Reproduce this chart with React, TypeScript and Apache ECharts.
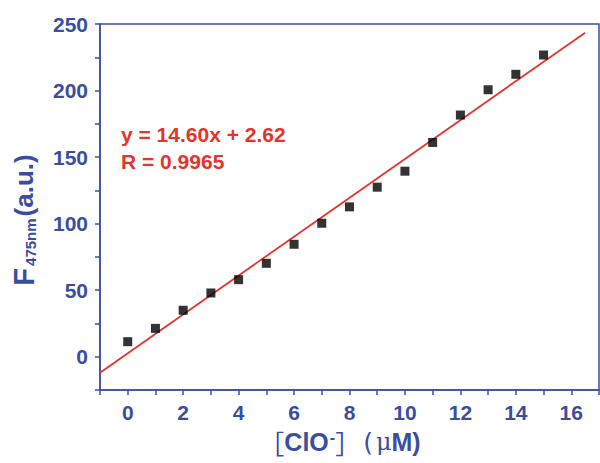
import React, { useEffect, useRef } from "react";
import * as echarts from "echarts";

const concentrations = [0, 1, 2, 3, 4, 5, 6, 7, 8, 9, 10, 11, 12, 13, 14, 15];
const intensities = [11.3, 21.3, 34.9, 47.9, 57.9, 70.2, 84.5, 100.3, 112.6, 127.4, 139.4, 161.0, 181.6, 200.6, 212.2, 226.7];
const fitLine = [
  [-1, -12.0],
  [16.5, 243.5],
];
const equationLines = ["y = 14.60x + 2.62", "R = 0.9965"];

const BLUE = "#3a4ea1";
const RED = "#e8332c";
const SANS = "'Liberation Sans', Arial, sans-serif";

export default function App() {
  const ref = useRef<HTMLDivElement>(null);
  useEffect(() => {
    if (!ref.current) return;
    const chart = echarts.init(ref.current, null, { renderer: "svg" });
    const scatterData = concentrations.map((c, i) => [c, intensities[i]]);
    chart.setOption({
      animation: false,
      backgroundColor: "#ffffff",
      grid: {
        left: 100,
        right: 1,
        top: 24,
        bottom: 73,
        show: true,
        borderColor: BLUE,
        borderWidth: 1.5,
        containLabel: false,
        outerBoundsMode: "none",
      },
      xAxis: {
        type: "value",
        min: -1,
        max: 17,
        interval: 1,
        splitLine: { show: false },
        axisLine: { onZero: false, lineStyle: { color: BLUE, width: 1.5 } },
        axisTick: { inside: false, length: 5, lineStyle: { color: BLUE, width: 1.5 } },
        axisLabel: {
          margin: 12,
          color: BLUE,
          fontSize: 21,
          fontWeight: "bold",
          fontFamily: SANS,
          formatter: (v: number) => (v >= 0 && v <= 16 && v % 2 === 0 ? String(v) : ""),
        },
        name: "{br|［}{t|ClO}{sup|-}{br|］}{p|(}{mu|μ}{t|M)}",
        nameLocation: "middle",
        nameGap: 39,
        nameTextStyle: {
          padding: [0, 20, 0, 0],
          lineHeight: 26,
          rich: {
            br: { fontFamily: "'Noto Sans CJK SC'", fontSize: 26, lineHeight: 26, color: BLUE, fontWeight: "normal" },
            t: { fontFamily: SANS, fontSize: 25, lineHeight: 26, color: BLUE, fontWeight: "bold" },
            sup: { fontFamily: SANS, fontSize: 16, lineHeight: 16, color: BLUE, fontWeight: "bold", padding: [0, 0, 10, 1] },
            p: { fontFamily: "'DejaVu Sans', sans-serif", fontSize: 25, lineHeight: 26, color: BLUE, fontWeight: "normal", padding: [0, 3, 0, 2] },
            mu: { fontFamily: "'DejaVu Serif', serif", fontSize: 24, lineHeight: 26, color: BLUE, fontWeight: "normal" },
          },
        },
      },
      yAxis: {
        type: "value",
        min: -25,
        max: 250,
        interval: 25,
        splitLine: { show: false },
        axisLine: { onZero: false, lineStyle: { color: BLUE, width: 1.5 } },
        axisTick: { inside: false, length: 5, lineStyle: { color: BLUE, width: 1.5 } },
        axisLabel: {
          margin: 12,
          color: BLUE,
          fontSize: 21,
          fontWeight: "bold",
          fontFamily: SANS,
          formatter: (v: number) => (v >= 0 && v % 50 === 0 ? String(v) : ""),
        },
        name: "{F|F}{sub|475nm}{t|(a.u.)}",
        nameLocation: "middle",
        nameRotate: 90,
        nameGap: 62,
        nameTextStyle: {
          padding: [0, 26, 0, 0],
          rich: {
            F: { fontFamily: SANS, fontSize: 29, color: BLUE, fontWeight: "bold" },
            sub: { fontFamily: SANS, fontSize: 15, color: BLUE, fontWeight: "bold", padding: [14, 2, 0, 2] },
            t: { fontFamily: SANS, fontSize: 26, color: BLUE, fontWeight: "bold" },
          },
        },
      },
      series: [
        {
          type: "line",
          data: fitLine,
          showSymbol: false,
          symbol: "none",
          lineStyle: { color: RED, width: 1.8 },
          z: 2,
        },
        {
          type: "scatter",
          data: scatterData,
          symbol: "rect",
          symbolSize: 9,
          itemStyle: { color: "#000000" },
          z: 3,
        },
      ],
      graphic: [
        {
          type: "text",
          left: 121,
          top: 121,
          style: {
            text: equationLines.join("\n"),
            fill: RED,
            font: `bold 21px ${SANS}`,
            lineHeight: 27,
          },
        },
      ],
    });
    return () => chart.dispose();
  }, []);
  return (
    <div
      ref={ref}
      style={{ position: "fixed", left: 0, top: 0, width: 600, height: 463 }}
    />
  );
}
